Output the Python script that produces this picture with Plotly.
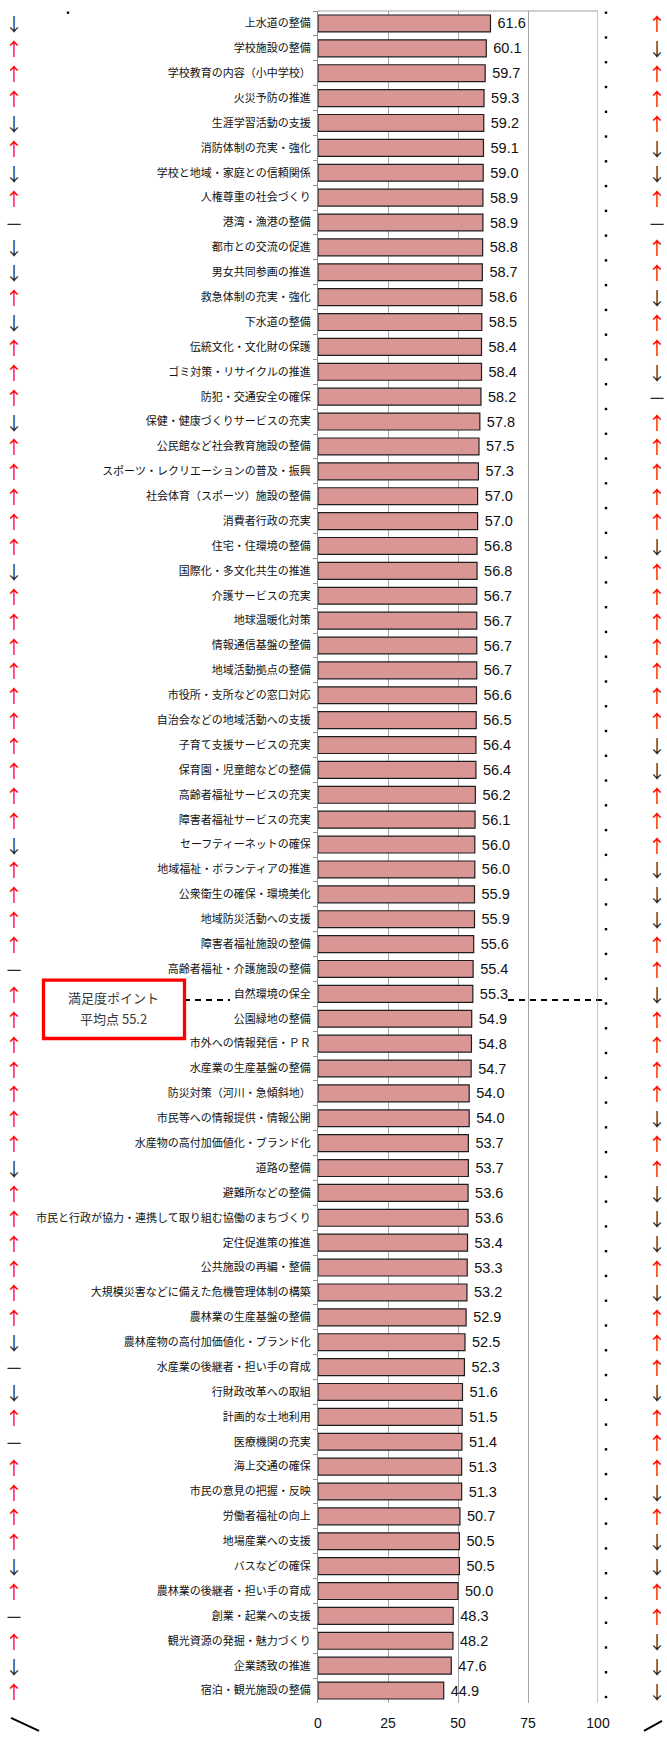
import numpy as np
import plotly.graph_objects as go

categories = [
    "上水道の整備", "学校施設の整備", "学校教育の内容（小中学校）", "火災予防の推進", "生涯学習活動の支援",
    "消防体制の充実・強化", "学校と地域・家庭との信頼関係", "人権尊重の社会づくり", "港湾・漁港の整備", "都市との交流の促進",
    "男女共同参画の推進", "救急体制の充実・強化", "下水道の整備", "伝統文化・文化財の保護", "ゴミ対策・リサイクルの推進",
    "防犯・交通安全の確保", "保健・健康づくりサービスの充実", "公民館など社会教育施設の整備", "スポーツ・レクリエーションの普及・振興", "社会体育（スポーツ）施設の整備",
    "消費者行政の充実", "住宅・住環境の整備", "国際化・多文化共生の推進", "介護サービスの充実", "地球温暖化対策",
    "情報通信基盤の整備", "地域活動拠点の整備", "市役所・支所などの窓口対応", "自治会などの地域活動への支援", "子育て支援サービスの充実",
    "保育園・児童館などの整備", "高齢者福祉サービスの充実", "障害者福祉サービスの充実", "セーフティーネットの確保", "地域福祉・ボランティアの推進",
    "公衆衛生の確保・環境美化", "地域防災活動への支援", "障害者福祉施設の整備", "高齢者福祉・介護施設の整備", "自然環境の保全",
    "公園緑地の整備", "市外への情報発信・ＰＲ", "水産業の生産基盤の整備", "防災対策（河川・急傾斜地）", "市民等への情報提供・情報公開",
    "水産物の高付加価値化・ブランド化", "道路の整備", "避難所などの整備", "市民と行政が協力・連携して取り組む協働のまちづくり", "定住促進策の推進",
    "公共施設の再編・整備", "大規模災害などに備えた危機管理体制の構築", "農林業の生産基盤の整備", "農林産物の高付加価値化・ブランド化", "水産業の後継者・担い手の育成",
    "行財政改革への取組", "計画的な土地利用", "医療機関の充実", "海上交通の確保", "市民の意見の把握・反映",
    "労働者福祉の向上", "地場産業への支援", "バスなどの確保", "農林業の後継者・担い手の育成", "創業・起業への支援",
    "観光資源の発掘・魅力づくり", "企業誘致の推進", "宿泊・観光施設の整備",
]

values = [
    61.6, 60.1, 59.7, 59.3, 59.2, 59.1, 59.0, 58.9, 58.9, 58.8,
    58.7, 58.6, 58.5, 58.4, 58.4, 58.2, 57.8, 57.5, 57.3, 57.0,
    57.0, 56.8, 56.8, 56.7, 56.7, 56.7, 56.7, 56.6, 56.5, 56.4,
    56.4, 56.2, 56.1, 56.0, 56.0, 55.9, 55.9, 55.6, 55.4, 55.3,
    54.9, 54.8, 54.7, 54.0, 54.0, 53.7, 53.7, 53.6, 53.6, 53.4,
    53.3, 53.2, 52.9, 52.5, 52.3, 51.6, 51.5, 51.4, 51.3, 51.3,
    50.7, 50.5, 50.5, 50.0, 48.3, 48.2, 47.6, 44.9,
]

# trend marks: u = up (red), d = down, - = no change
left_trend = [
    "d", "u", "u", "u", "d", "u", "d", "u", "-", "d",
    "d", "u", "d", "u", "u", "u", "d", "u", "u", "u",
    "u", "u", "d", "u", "u", "u", "u", "u", "u", "u",
    "u", "u", "u", "d", "u", "u", "u", "u", "-", "u",
    "u", "u", "u", "u", "u", "u", "d", "u", "u", "u",
    "u", "u", "u", "d", "-", "d", "u", "-", "u", "u",
    "u", "u", "d", "u", "-", "u", "d", "u",
]
right_trend = [
    "u", "d", "u", "u", "u", "d", "d", "u", "-", "u",
    "u", "d", "u", "u", "d", "-", "u", "u", "u", "u",
    "u", "d", "u", "u", "u", "u", "u", "u", "u", "d",
    "d", "u", "u", "u", "d", "d", "d", "u", "u", "d",
    "u", "u", "u", "u", "d", "u", "u", "d", "d", "d",
    "u", "d", "u", "u", "u", "d", "u", "u", "u", "d",
    "u", "d", "d", "u", "u", "d", "d", "d",
]

x_ticks = [0, 25, 50, 75, 100]
avg_label_1 = "満足度ポイント"
avg_label_2 = "平均点 55.2"
avg_value = 55.2

# ---- layout geometry (pixels) ----
W, H = 667, 1742
X0, X1 = 318, 598      # plot area left / right
Y0, Y1 = 11, 1714      # plot area top / bottom
N = len(categories)
ROWH = (Y1 - Y0) / N


def pxp(px):
    return (px - X0) / (X1 - X0)


def pyp(py):
    return (Y1 - py) / (Y1 - Y0)


GLYPH = {"u": "↑", "d": "↓", "-": "－"}
COLOR = {"u": "#ff0000", "d": "#262626", "-": "#262626"}
JP = "Noto Sans CJK JP"

fig = go.Figure()

fig.add_trace(go.Bar(
    y=categories, x=values, orientation="h",
    marker=dict(color="#d99694", line=dict(color="#1e1e1e", width=1.2)),
    texttemplate="\u00a0%{x:.1f}", textposition="outside",
    textfont=dict(family="Liberation Sans, Arial", size=14.5, color="#111111"),
    constraintext="none", cliponaxis=False, hoverinfo="skip",
))

annotations = []
for col_px, trend in ((14, left_trend), (657, right_trend)):
    for i, t in enumerate(trend):
        annotations.append(dict(
            xref="paper", yref="y", x=pxp(col_px), y=i, text=GLYPH[t],
            showarrow=False, xanchor="center", yanchor="middle",
            font=dict(family=JP, size=18, color=COLOR[t]),
        ))

annotations += [
    dict(xref="paper", yref="paper", x=pxp(113), y=pyp(1003.5), text=avg_label_1,
         showarrow=False, font=dict(family=JP, size=13, color="#3a3a3a"),
         xanchor="center", yanchor="middle"),
    dict(xref="paper", yref="paper", x=pxp(113), y=pyp(1025.5), text=avg_label_2,
         showarrow=False, font=dict(family=JP, size=13, color="#3a3a3a"),
         xanchor="center", yanchor="middle"),
]

# average dashed line, positioned from the data
order = np.arange(N)
avg_idx = float(np.interp(-avg_value, -np.array(values), order))
avg_py = Y0 + (avg_idx + 0.5) * ROWH
dash = dict(color="#000000", width=2, dash="6px,5px")
shapes = [
    dict(type="line", xref="paper", yref="paper", x0=pxp(184), x1=pxp(230),
         y0=pyp(avg_py), y1=pyp(avg_py), line=dash, layer="below"),
    dict(type="line", xref="paper", yref="paper", x0=pxp(508), x1=pxp(603),
         y0=pyp(avg_py), y1=pyp(avg_py), line=dash, layer="below"),
    # red box
    dict(type="rect", xref="paper", yref="paper", x0=pxp(43.5), x1=pxp(184.5),
         y0=pyp(1045.2), y1=pyp(986.5), line=dict(color="#ff0000", width=3.3),
         fillcolor="rgba(0,0,0,0)"),
    # top border and right border (x = 100)
    dict(type="line", xref="paper", yref="paper", x0=0, x1=1, y0=1, y1=1,
         line=dict(color="#a0a0a0", width=1.2)),
    dict(type="line", xref="x", yref="paper", x0=100, x1=100, y0=0, y1=1,
         line=dict(color="#a0a0a0", width=1.2)),
    # corner strokes
    dict(type="line", xref="paper", yref="paper", x0=pxp(11), x1=pxp(39),
         y0=pyp(1729), y1=pyp(1742), line=dict(color="#000000", width=2)),
    dict(type="line", xref="paper", yref="paper", x0=pxp(644), x1=pxp(662),
         y0=pyp(1742), y1=pyp(1732), line=dict(color="#000000", width=2)),
]

# decorative dot column (own line spacing) + stray dot top-left
dot_y = list(np.linspace(12.7, 1708.0, N + 1)) + [12.7]
dot_x = [606] * (N + 1) + [68]
for px, py in zip(dot_x, dot_y):
    shapes.append(dict(
        type="rect", xref="paper", yref="paper",
        x0=pxp(px - 1.2), x1=pxp(px + 1.2), y0=pyp(py + 1.2), y1=pyp(py - 1.2),
        fillcolor="#000000", line=dict(width=0),
    ))

fig.update_layout(
    width=W, height=H, autosize=False,
    margin=dict(l=X0, r=W - X1, t=Y0, b=H - Y1, pad=0),
    paper_bgcolor="white", plot_bgcolor="white",
    showlegend=False, bargap=0.32,
    shapes=shapes, annotations=annotations,
    xaxis=dict(
        range=[0, 100], tickvals=x_ticks, ticktext=[str(v) for v in x_ticks],
        showgrid=True, gridcolor="#a6a6a6", gridwidth=1.2, zeroline=False,
        showline=False, ticks="outside", ticklen=7, tickcolor="rgba(0,0,0,0)",
        tickfont=dict(family="Liberation Sans, Arial", size=14, color="#111111"),
        fixedrange=True,
    ),
    yaxis=dict(
        type="category", categoryorder="array", categoryarray=categories,
        range=[N - 0.5, -0.5], showgrid=False, zeroline=False,
        showline=True, linecolor="#8c8c8c", linewidth=1.2,
        ticks="outside", tickson="boundaries", ticklen=4, tickcolor="#8c8c8c",
        ticklabelstandoff=4,
        tickfont=dict(family=JP, size=11, color="#111111"),
        fixedrange=True,
    ),
)

fig.write_html(
    "out.html",
    config={"displayModeBar": False},
    post_script="document.body.style.margin='0';document.body.style.overflow='hidden';",
)
